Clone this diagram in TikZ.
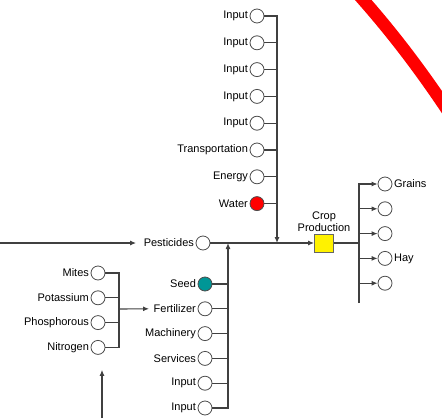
\documentclass[tikz,border=0pt]{standalone}
\usepackage{fontspec}
\setmainfont{Liberation Sans}
\usetikzlibrary{arrows.meta, positioning, chains}

\definecolor{seedteal}{RGB}{0,150,150}

\tikzset{
  port/.style = {circle, draw=black!70, line width=0.8pt,
                 minimum size=14pt, inner sep=0pt},
  cropbox/.style = {rectangle, draw=black!60, line width=0.8pt, fill=yellow,
                    minimum width=19pt, minimum height=18pt, inner sep=0pt},
  wire/.style = {draw=black!75, line width=1.1pt},
  every label/.style = {font=\fontsize{11}{12}\selectfont, inner sep=1.5pt},
}

\begin{document}
\begin{tikzpicture}[x=1pt, y=-1pt, >={Latex[length=6pt, width=5pt]}]
   \useasboundingbox (0,0) rectangle (442,418);

   % inputs above the main line
   \begin{scope}[start chain=top going below, node distance=12pt]
   \node[port, on chain=top, label=left:Input] (t1) at (257,16) {};
   \node[port, on chain=top, label=left:Input] (t2) {};
   \node[port, on chain=top, label=left:Input] (t3) {};
   \node[port, on chain=top, label=left:Input] (t4) {};
   \node[port, on chain=top, label=left:Input] (t5) {};
   \node[port, on chain=top, label=left:Transportation] (t6) {};
   \node[port, on chain=top, label=left:Energy] (t7) {};
   \node[port, on chain=top, fill=red, label=left:Water] (t8) {};
   \end{scope}

   % inputs below the main line
   \begin{scope}[start chain=bot going below, node distance=10pt]
   \node[port, on chain=bot, fill=seedteal, label=left:Seed] (b1) at (205,284) {};
   \node[port, on chain=bot, label={[name=fertlab]left:Fertilizer}] (b2) {};
   \node[port, on chain=bot, label=left:Machinery] (b3) {};
   \node[port, on chain=bot, label=left:Services] (b4) {};
   \node[port, on chain=bot, label=left:Input] (b5) {};
   \node[port, on chain=bot, label=left:Input] (b6) {};
   \end{scope}

   % nutrients
   \begin{scope}[start chain=nut going below, node distance=10pt]
   \node[port, on chain=nut, label=left:Mites] (l1) at (98,273) {};
   \node[port, on chain=nut, label=left:Potassium] (l2) {};
   \node[port, on chain=nut, label=left:Phosphorous] (l3) {};
   \node[port, on chain=nut, label=left:Nitrogen] (l4) {};
   \end{scope}

   % outputs
   \begin{scope}[start chain=out going below, node distance=10pt]
   \node[port, on chain=out, label=right:Grains] (r1) at (385,184) {};
   \node[port, on chain=out] (r2) {};
   \node[port, on chain=out] (r3) {};
   \node[port, on chain=out, label=right:Hay] (r4) {};
   \node[port, on chain=out] (r5) {};
   \end{scope}

   \node[port, label={[name=pestlab]left:Pesticides}] (pest) at (203,243) {};
   \node[cropbox, label={[align=center, inner sep=2pt]above:Crop\\Production}] (crop) at (324,243) {};

   \coordinate (west)  at (0,243);
   \coordinate (south) at (102,418);
   \coordinate (tjoin) at (277,243);
   \coordinate (bjoin) at (228,243);
   \coordinate (lbus)  at (119,309);
   \coordinate (rbus)  at (359,303);

   % main line
   \draw[wire, ->] (west) -- ([xshift=-6pt]pestlab.west);
   \draw[wire, ->] (pest.east) -- (crop.west);

   % buses
   \draw[wire, ->] (t1.east) -| (tjoin);
   \foreach \n in {2,...,8} \draw[wire] (t\n.east) -- (t\n.east -| tjoin);
   \draw[wire, ->] (b6.east) -| (bjoin);
   \foreach \n in {1,...,5} \draw[wire] (b\n.east) -- (b\n.east -| bjoin);
   \draw[wire] (l1.east) -| (lbus |- l4.east) -- (l4.east);
   \foreach \n in {2,3} \draw[wire] (l\n.east) -- (l\n.east -| lbus);
   \draw[wire, ->] (lbus) -- ([xshift=-3pt]fertlab.west);
   \draw[wire, ->, shorten >=15pt] (south) -- (south |- l4.south);
   \draw[wire] (crop.east) -- (crop.east -| rbus);
   \draw[wire, ->] (rbus) |- (r1.west);
   \foreach \n in {2,...,5} \draw[wire, ->] (r\n.west -| rbus) -- (r\n.west);

   % red stroke across the corner
   \begin{scope}
   \clip (0,0) rectangle (442,418);
   \draw[red, line width=12.5pt] (358,-6) .. controls (390,30) and (418,66) .. (450,114);
   \end{scope}
\end{tikzpicture}
\end{document}
